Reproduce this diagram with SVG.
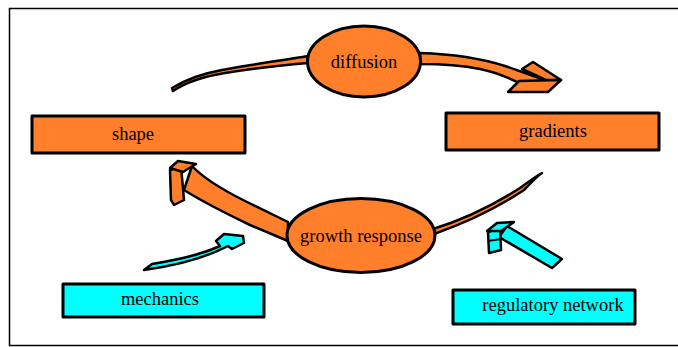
<svg xmlns="http://www.w3.org/2000/svg" width="678" height="347" viewBox="0 0 678 347">
<style>
.o{fill:#ff7f2a;stroke:#000;stroke-width:3;stroke-linejoin:round}
.c{fill:#00ffff;stroke:#000;stroke-width:3;stroke-linejoin:round}
.a{stroke:#000;stroke-width:2.5;stroke-linejoin:round}
.t{font-family:"Liberation Serif",serif;font-size:18.5px;fill:#000;text-anchor:middle}
</style>
<rect x="9.5" y="8.5" width="680" height="337" fill="#fff" stroke="#000" stroke-width="1.5"/>
<g id="connectors">
<path class="a" fill="#ff7f2a" d="M172,88 C185,80 200,74 222,70 C255,64 285,60 308,56 L308,63 C285,65 255,68 225,73 C200,77 185,83 173,91 Z"/>
<path class="a" fill="#ff7f2a" d="M420,53 C450,54 480,58 505,66 C520,71 533,76 545,80 L525,86 C510,78 495,72 480,69 C460,65 440,64 420,64 Z"/>
<path class="a" fill="#ff7f2a" d="M522,69 L533,62 L561,80 L546,80 Z"/>
<path class="a" fill="#ff7f2a" d="M519,81 L561,80 L548,92 L508,92 Z"/>
<path class="a" fill="#ff7f2a" d="M433,229 C465,219 495,204 520,188 C528,182 535,177 542,173 C536,177 530,184 524,190 C500,206 468,222 434,234 Z"/>
<path class="a" fill="#ff7f2a" d="M288,222 L245,201 C225,191 205,180 192,166 L184,190 C200,200 225,213 250,225 L288,241 Z"/>
<path class="a" fill="#ff7f2a" d="M170,170 L181,166 L184,200 L174,205 L171,200 Z"/>
<path class="a" fill="#ff7f2a" d="M170,168 L178,161 L196,164 L183,172 Z"/>
<path class="a" fill="#00ffff" d="M144,270 L152,264 C180,259 200,255 220,246 L216,241 L224,234 L243,236 L244,243 L232,249 L228,246 C205,258 180,265 144,270 Z"/>
<path class="a" fill="#00ffff" d="M562,259 L552,268 L499,237 L507,226 Z"/>
<path class="a" fill="#00ffff" d="M488,232 L500,228 L501,250 L489,253 Z"/>
<path class="a" fill="#00ffff" d="M487,231 L497,223 L514,222 L501,231 Z"/>
<path stroke="#000" stroke-width="2" d="M488,241 L501,239"/>
</g>
<g id="diffusion"><ellipse class="o" cx="364" cy="61.5" rx="56.5" ry="35.5"/><text class="t" x="364" y="68">diffusion</text></g>
<g id="shape"><rect class="o" x="32" y="116" width="213" height="37"/><text class="t" x="133" y="140">shape</text></g>
<g id="gradients"><rect class="o" x="446" y="113" width="213" height="37"/><text class="t" x="553" y="137">gradients</text></g>
<g id="growth"><ellipse class="o" cx="361" cy="235.5" rx="74" ry="37"/><text class="t" x="361" y="242">growth response</text></g>
<g id="mechanics"><rect class="c" x="63" y="284" width="201" height="33"/><text class="t" x="160" y="305">mechanics</text></g>
<g id="regulatory"><rect class="c" x="453" y="290" width="182" height="34"/><text class="t" x="553" y="311">regulatory network</text></g>
</svg>
